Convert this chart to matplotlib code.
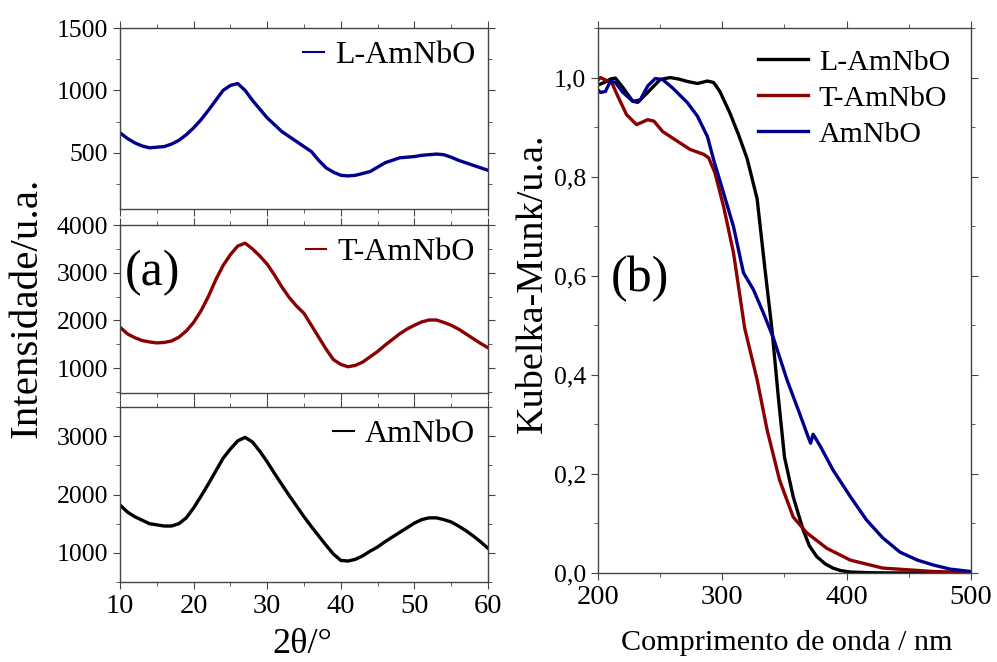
import matplotlib
matplotlib.use('Agg')
import matplotlib.pyplot as plt
import numpy as np
from matplotlib.ticker import MultipleLocator, FuncFormatter

plt.rcParams['font.family'] = ['Liberation Serif', 'DejaVu Serif']

# --- XRD data (2theta in degrees, 1 degree step) ---
two_theta = list(range(10, 61))
xrd_l = [660, 615, 580, 555, 540, 545, 550, 570, 600, 645, 700, 765, 840, 920, 1000, 1040, 1055,
         1000, 920, 850, 780, 725, 670, 630, 590, 550, 510, 440, 380, 345, 320, 315, 320, 335, 350,
         385, 420, 440, 460, 465, 470, 480, 485, 490, 485, 465, 440, 420, 400, 380, 360]
xrd_t = [1860, 1720, 1640, 1580, 1550, 1530, 1540, 1570, 1650, 1780, 1960, 2200, 2500, 2850, 3150,
         3380, 3560, 3620, 3500, 3350, 3180, 2950, 2700, 2480, 2300, 2150, 1900, 1650, 1400, 1180,
         1080, 1030, 1060, 1130, 1240, 1350, 1480, 1600, 1720, 1820, 1900, 1970, 2010, 2010, 1960,
         1900, 1820, 1720, 1620, 1520, 1430]
xrd_a = [1820, 1700, 1620, 1560, 1500, 1480, 1460, 1460, 1500, 1600, 1770, 1970, 2180, 2400, 2620,
         2780, 2920, 2980, 2900, 2740, 2560, 2360, 2170, 1980, 1800, 1620, 1450, 1290, 1130, 980,
         870, 860, 890, 950, 1030, 1100, 1190, 1270, 1350, 1430, 1510, 1570, 1600, 1600, 1570, 1530,
         1460, 1380, 1290, 1190, 1080]

# --- Kubelka-Munk data ---
wl_l = [200, 205, 210, 214, 220, 228, 232, 240, 250, 258, 265, 272, 280, 288, 293, 298, 306, 313,
        320, 328, 334, 340, 345, 350, 357, 365, 370, 376, 383, 389, 395, 403, 420, 450, 500]
km_l = [0.985, 0.99, 0.997, 0.999, 0.98, 0.952, 0.95, 0.97, 0.996, 1.0, 0.997, 0.992, 0.988, 0.993,
        0.99, 0.972, 0.929, 0.885, 0.836, 0.755, 0.62, 0.49, 0.356, 0.234, 0.154, 0.087, 0.055,
        0.033, 0.018, 0.01, 0.005, 0.002, 0.0005, 0.0, 0.0]
wl_t = [200, 202, 206, 211, 216, 223, 231, 240, 245, 252, 266, 274, 285, 289, 294, 301, 309, 318,
        328, 336, 346, 357, 368, 384, 403, 429, 470, 500]
km_t = [0.995, 1.0, 0.995, 0.99, 0.962, 0.925, 0.905, 0.915, 0.912, 0.891, 0.868, 0.855, 0.845,
        0.838, 0.808, 0.74, 0.646, 0.494, 0.39, 0.289, 0.188, 0.113, 0.081, 0.05, 0.026, 0.01,
        0.003, 0.001]
wl_a = [200, 202, 206, 210, 214, 220, 228, 234, 240, 246, 252, 260, 272, 280, 288, 293, 301, 309,
        317, 325, 333, 341, 352, 362, 369, 371, 373, 375, 379, 389, 403, 416, 429, 443, 457, 470,
        483, 500]
km_a = [0.975, 0.97, 0.972, 0.993, 0.99, 0.97, 0.952, 0.955, 0.983, 0.998, 0.996, 0.979, 0.949,
        0.922, 0.881, 0.834, 0.767, 0.699, 0.606, 0.572, 0.525, 0.475, 0.39, 0.323, 0.275, 0.262,
        0.28, 0.272, 0.255, 0.208, 0.154, 0.107, 0.071, 0.042, 0.026, 0.016, 0.008, 0.003]

navy = '#00008b'
darkred = '#8b0000'
spine_c = '#444444'

fig = plt.figure(figsize=(9.97, 6.62), dpi=100)


def style(ax):
    for s in ax.spines.values():
        s.set_color(spine_c)
        s.set_linewidth(1.0)
    ax.tick_params(which='both', direction='out', top=True, right=True, color=spine_c)
    ax.tick_params(axis='y', labelsize=18.5)
    ax.tick_params(axis='x', labelsize=20.5)
    ax.tick_params(which='major', length=5)
    ax.tick_params(which='minor', length=3)


# left stacked panels
panels = [
    ([0.1204, 0.6843, 0.369, 0.2734], xrd_l, navy, 'L-AmNbO', (50, 1500), 500),
    ([0.1204, 0.4063, 0.369, 0.2538], xrd_t, darkred, 'T-AmNbO', (480, 4000), 1000),
    ([0.1204, 0.1208, 0.369, 0.2644], xrd_a, 'black', 'AmNbO', (500, 3500), 1000),
]
for i, (rect, ys, c, lab, ylim, step) in enumerate(panels):
    ax = fig.add_axes(rect)
    ax.plot(two_theta, ys, color=c, lw=2.4, label=lab)
    ax.set_xlim(10, 60)
    ax.set_ylim(*ylim)
    ax.xaxis.set_major_locator(MultipleLocator(10))
    ax.xaxis.set_minor_locator(MultipleLocator(5))
    ax.yaxis.set_major_locator(MultipleLocator(step))
    ax.yaxis.set_minor_locator(MultipleLocator(step / 2))
    style(ax)
    if i < 2:
        ax.tick_params(labelbottom=False)
    ax.legend(loc='upper right', frameon=False, fontsize=23, handlelength=0.65,
              handletextpad=0.35, borderaxespad=0.1, borderpad=0.3)
    for h in ax.get_legend().get_lines():
        h.set_linewidth(1.5)

fig.text(0.153, 0.587, '(a)', fontsize=36, ha='center', va='center')
fig.text(0.027, 0.535, 'Intensidade/u.a.', fontsize=29.5, rotation=90, ha='center', va='center')
fig.text(0.303, 0.002, '2θ/°', fontsize=26, ha='center', va='bottom')

# right panel
ax2 = fig.add_axes([0.5998, 0.1344, 0.3741, 0.8233])
ax2.plot(wl_l, km_l, color='black', lw=2.4, label='L-AmNbO')
ax2.plot(wl_t, km_t, color=darkred, lw=2.4, label='T-AmNbO')
ax2.plot(wl_a, km_a, color=navy, lw=2.4, label='AmNbO')
ax2.set_xlim(200, 500)
ax2.set_ylim(0, 1.1)
ax2.xaxis.set_major_locator(MultipleLocator(100))
ax2.xaxis.set_minor_locator(MultipleLocator(50))
ax2.yaxis.set_major_locator(MultipleLocator(0.2))
ax2.yaxis.set_minor_locator(MultipleLocator(0.1))
ax2.yaxis.set_major_formatter(FuncFormatter(lambda v, p: f'{v:.1f}'.replace('.', ',')))
style(ax2)
fig.text(0.789, 0.029, 'Comprimento de onda / nm', fontsize=21.7, ha='center', va='center')
fig.text(0.534, 0.572, 'Kubelka-Munk/u.a.', fontsize=27.5, rotation=90, ha='center', va='center')
ax2.legend(loc='upper right', frameon=False, fontsize=21.5, handlelength=1.7,
           handletextpad=0.35, labelspacing=0.3, borderaxespad=0.3)
ax2.text(0.113, 0.54, '(b)', transform=ax2.transAxes, fontsize=36, ha='center', va='center')

plt.savefig('out.png', dpi=100)
